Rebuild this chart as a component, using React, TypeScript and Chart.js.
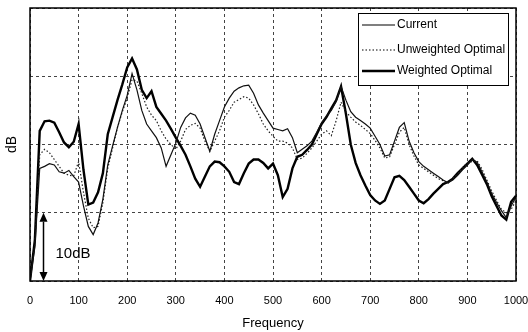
import { useEffect, useRef } from 'react';
import { Chart, registerables } from 'chart.js';

Chart.register(...registerables);

const FREQUENCIES = [
  0, 10, 20, 30, 40, 50, 60, 70, 80, 90,
  100, 110, 120, 130, 140, 150, 160, 170, 180, 190,
  200, 210, 220, 230, 240, 250, 260, 270, 280, 290,
  300, 310, 320, 330, 340, 350, 360, 370, 380, 390,
  400, 410, 420, 430, 440, 450, 460, 470, 480, 490,
  500, 510, 520, 530, 540, 550, 560, 570, 580, 590,
  600, 610, 620, 630, 640, 650, 660, 670, 680, 690,
  700, 710, 720, 730, 740, 750, 760, 770, 780, 790,
  800, 810, 820, 830, 840, 850, 860, 870, 880, 890,
  900, 910, 920, 930, 940, 950, 960, 970, 980, 990,
  1000,
];

const CURRENT = [
  0, 5, 16.5, 16.8, 17.2, 17.0, 16.0, 15.8, 16.2, 15.3,
  14.5, 11, 8, 6.8, 8.5, 12, 17, 19.8, 22.5, 25,
  27.2, 30.4, 28, 25, 23, 22, 21, 19.5, 16.8, 18.5,
  20.2, 22.5, 23.9, 24.6, 24.3, 23, 21, 19, 21.5, 23.5,
  25.5, 26.8, 27.8, 28.3, 28.6, 28.7, 27.5, 25.8, 24.6, 23.5,
  22.4, 22.2, 22, 22.3, 21, 18.8, 19.3, 19.8, 20.5, 21.8,
  23.2, 24.2, 25, 26.3, 28.5, 26.5, 24.8, 24, 23.5, 23,
  22.4, 21.2, 20, 18.3, 18.5, 20.5, 22.5, 23.2, 20.5, 18.8,
  17.5, 16.8, 16.3, 15.8, 15.3, 14.8, 14.4, 14.8, 15.5, 16.3,
  17, 17.8, 17.4, 16, 14.5, 12.8, 11.5, 10.3, 9.3, 11,
  12.3,
];

const UNWEIGHTED_OPTIMAL = [
  0, 5.5, 18.5, 19.3, 18.8, 17.8, 16.8, 15.8, 15.5, 15.4,
  17.5, 13, 9.2, 7.8, 8, 11.5, 16.5, 19.5, 22.5, 24.8,
  26.8, 29.5, 29.3, 27.5, 25.5, 24.3, 23.5, 22, 20.8, 20,
  19.3, 20.5, 22.2, 22.8, 23.1, 22.4, 20.5, 19, 20.5, 22,
  24, 25, 26.2, 26.6, 27, 26.8, 25.8, 24.5, 23, 22,
  21.2, 20.5, 20.5, 20.2, 19.5, 17.8, 18, 18.7, 19.5, 20.5,
  21.5, 22, 21.3, 23.5, 26.2, 24.8, 24, 23.3, 22.8, 22.2,
  21.6, 20.6, 19.5, 18, 18.2, 20, 21.8, 22.5, 20, 18.3,
  17, 16.5, 16, 15.5, 15, 14.7, 14.3, 15, 15.7, 16.6,
  17.3, 17.5, 17.6, 16.4, 14.8, 13.2, 11.8, 10.5, 10, 10.5,
  11.8,
];

const WEIGHTED_OPTIMAL = [
  0, 6, 22, 23.4, 23.5, 23.2, 21.8, 20.3, 19.6, 20.4,
  23, 16.3, 11.2, 11.5, 13, 15.8, 21.5, 24, 26.5, 28.8,
  31.3, 32.6, 31, 28, 26.8, 27.8, 25.5, 24.5, 23.5, 22.3,
  21, 19.8, 18.5, 16.8, 15, 13.8, 15.3, 16.8, 17.5, 17.4,
  16.8, 16, 14.5, 14.2, 15.8, 17.2, 17.8, 17.8, 17.3, 16.5,
  17.2, 15.5, 12.3, 13.5, 16.5, 18.2, 18.5, 19.2, 20, 21.5,
  23, 24, 25.3, 26.5, 28.5, 24.5, 20, 17.3, 15.5, 14,
  12.6, 11.8, 11.3, 11.8, 13.5, 15.2, 15.4, 14.8, 13.8, 12.8,
  11.8, 11.4, 12, 12.8, 13.5, 14.2, 14.5, 15, 15.8, 16.5,
  17.2, 17.9, 17, 15.6, 14.2, 12.4, 11, 9.6, 9, 11.6,
  12.5,
];

const SERIES_LABELS = ['Current', 'Unweighted Optimal', 'Weighted Optimal'];
const X_TITLE = 'Frequency';
const Y_TITLE = 'dB';
const X_MIN = 0;
const X_MAX = 1000;
const X_STEP = 100;
const Y_MIN = 0;
const Y_MAX = 40;
const Y_STEP = 10;
const ARROW_FREQ = 27;
const ARROW_RANGE = [0, 10];
const ARROW_LABEL = '10dB';

const FONT = "'Liberation Sans', Arial, Helvetica, sans-serif";

const toPoints = (ys: number[]) => FREQUENCIES.map((f, i) => ({ x: f, y: ys[i] }));

const overlayPlugin = {
  id: 'overlay',
  afterDatasetsDraw(chart: any) {
    const { ctx, chartArea: a, scales } = chart;
    const xs = scales.x;
    const ys = scales.y;
    ctx.save();
    ctx.setLineDash([]);

    // plot frame
    ctx.strokeStyle = '#000';
    ctx.lineWidth = 1.5;
    ctx.strokeRect(a.left, a.top, a.right - a.left, a.bottom - a.top);

    // 10 dB scale arrow
    const ax = Math.round(xs.getPixelForValue(ARROW_FREQ)) + 0.5;
    const yLow = ys.getPixelForValue(ARROW_RANGE[0]);
    const yHigh = ys.getPixelForValue(ARROW_RANGE[1]);
    const head = 9;
    const hw = 4;
    ctx.strokeStyle = '#000';
    ctx.fillStyle = '#000';
    ctx.lineWidth = 1.5;
    ctx.beginPath();
    ctx.moveTo(ax, yHigh + head);
    ctx.lineTo(ax, yLow - head);
    ctx.stroke();
    ctx.beginPath();
    ctx.moveTo(ax, yHigh);
    ctx.lineTo(ax - hw, yHigh + head);
    ctx.lineTo(ax + hw, yHigh + head);
    ctx.closePath();
    ctx.fill();
    ctx.beginPath();
    ctx.moveTo(ax, yLow);
    ctx.lineTo(ax - hw, yLow - head);
    ctx.lineTo(ax + hw, yLow - head);
    ctx.closePath();
    ctx.fill();
    ctx.font = `15px ${FONT}`;
    ctx.textAlign = 'left';
    ctx.textBaseline = 'middle';
    ctx.fillText(ARROW_LABEL, ax + 12, yLow - 27);

    // legend
    const bx = a.right - 158;
    const by = a.top + 5;
    const bw = 150;
    const bh = 72;
    ctx.fillStyle = '#fff';
    ctx.fillRect(bx, by, bw, bh);
    ctx.strokeStyle = '#000';
    ctx.lineWidth = 1;
    ctx.strokeRect(bx + 0.5, by + 0.5, bw, bh);
    const rows = [17, 42, 63];
    chart.data.datasets.forEach((ds: any, i: number) => {
      const yy = a.top + rows[i];
      ctx.strokeStyle = '#000';
      ctx.lineWidth = ds.borderWidth;
      ctx.setLineDash(ds.borderDash || []);
      ctx.beginPath();
      ctx.moveTo(bx + 4, yy);
      ctx.lineTo(bx + 37, yy);
      ctx.stroke();
      ctx.setLineDash([]);
      ctx.fillStyle = '#000';
      ctx.font = `12px ${FONT}`;
      ctx.textAlign = 'left';
      ctx.textBaseline = 'middle';
      ctx.fillText(ds.label, bx + 39, yy);
    });
    ctx.restore();
  },
};

export default function App() {
  const canvasRef = useRef<HTMLCanvasElement | null>(null);

  useEffect(() => {
    const canvas = canvasRef.current;
    if (!canvas) return;
    const gridCommon = {
      color: '#444',
      lineWidth: 1,
      drawTicks: false,
    };
    const chart = new Chart(canvas, {
      type: 'line',
      data: {
        datasets: [
          {
            label: SERIES_LABELS[0],
            data: toPoints(CURRENT),
            borderColor: '#111',
            borderWidth: 1.2,
            pointRadius: 0,
            tension: 0,
          },
          {
            label: SERIES_LABELS[1],
            data: toPoints(UNWEIGHTED_OPTIMAL),
            borderColor: '#222',
            borderWidth: 1.2,
            borderDash: [1.5, 2],
            pointRadius: 0,
            tension: 0,
          },
          {
            label: SERIES_LABELS[2],
            data: toPoints(WEIGHTED_OPTIMAL),
            borderColor: '#000',
            borderWidth: 2.4,
            pointRadius: 0,
            tension: 0,
          },
        ],
      },
      options: {
        animation: false,
        responsive: false,
        maintainAspectRatio: false,
        layout: { padding: { left: 0, top: 8, right: 12, bottom: 0 } },
        plugins: {
          legend: { display: false },
          tooltip: { enabled: false },
        },
        scales: {
          x: {
            type: 'linear',
            min: X_MIN,
            max: X_MAX,
            grid: gridCommon,
            border: { display: false, dash: [3, 3] },
            ticks: {
              stepSize: X_STEP,
              padding: 13,
              color: '#000',
              font: { family: FONT, size: 11 },
              maxRotation: 0,
              callback: (v: any) => String(v),
            },
            title: {
              display: true,
              text: X_TITLE,
              color: '#000',
              font: { family: FONT, size: 13 },
              padding: { top: 0, bottom: 1 },
            },
            afterFit: (scale: any) => {
              scale.height = 51;
              scale.paddingRight = 0;
              scale.paddingLeft = 0;
            },
          },
          y: {
            type: 'linear',
            min: Y_MIN,
            max: Y_MAX,
            grid: gridCommon,
            border: { display: false, dash: [3, 3] },
            ticks: { stepSize: Y_STEP, display: false },
            title: {
              display: true,
              text: Y_TITLE,
              color: '#000',
              font: { family: FONT, size: 14 },
              padding: { top: 4, bottom: 0 },
            },
            afterFit: (scale: any) => {
              scale.width = 30;
            },
          },
        },
      },
      plugins: [overlayPlugin],
    });
    return () => chart.destroy();
  }, []);

  return (
    <div style={{ position: 'fixed', left: 0, top: 0, width: 528, height: 332, background: '#fff' }}>
      <canvas ref={canvasRef} width={528} height={332} style={{ width: 528, height: 332, display: 'block' }} />
    </div>
  );
}
